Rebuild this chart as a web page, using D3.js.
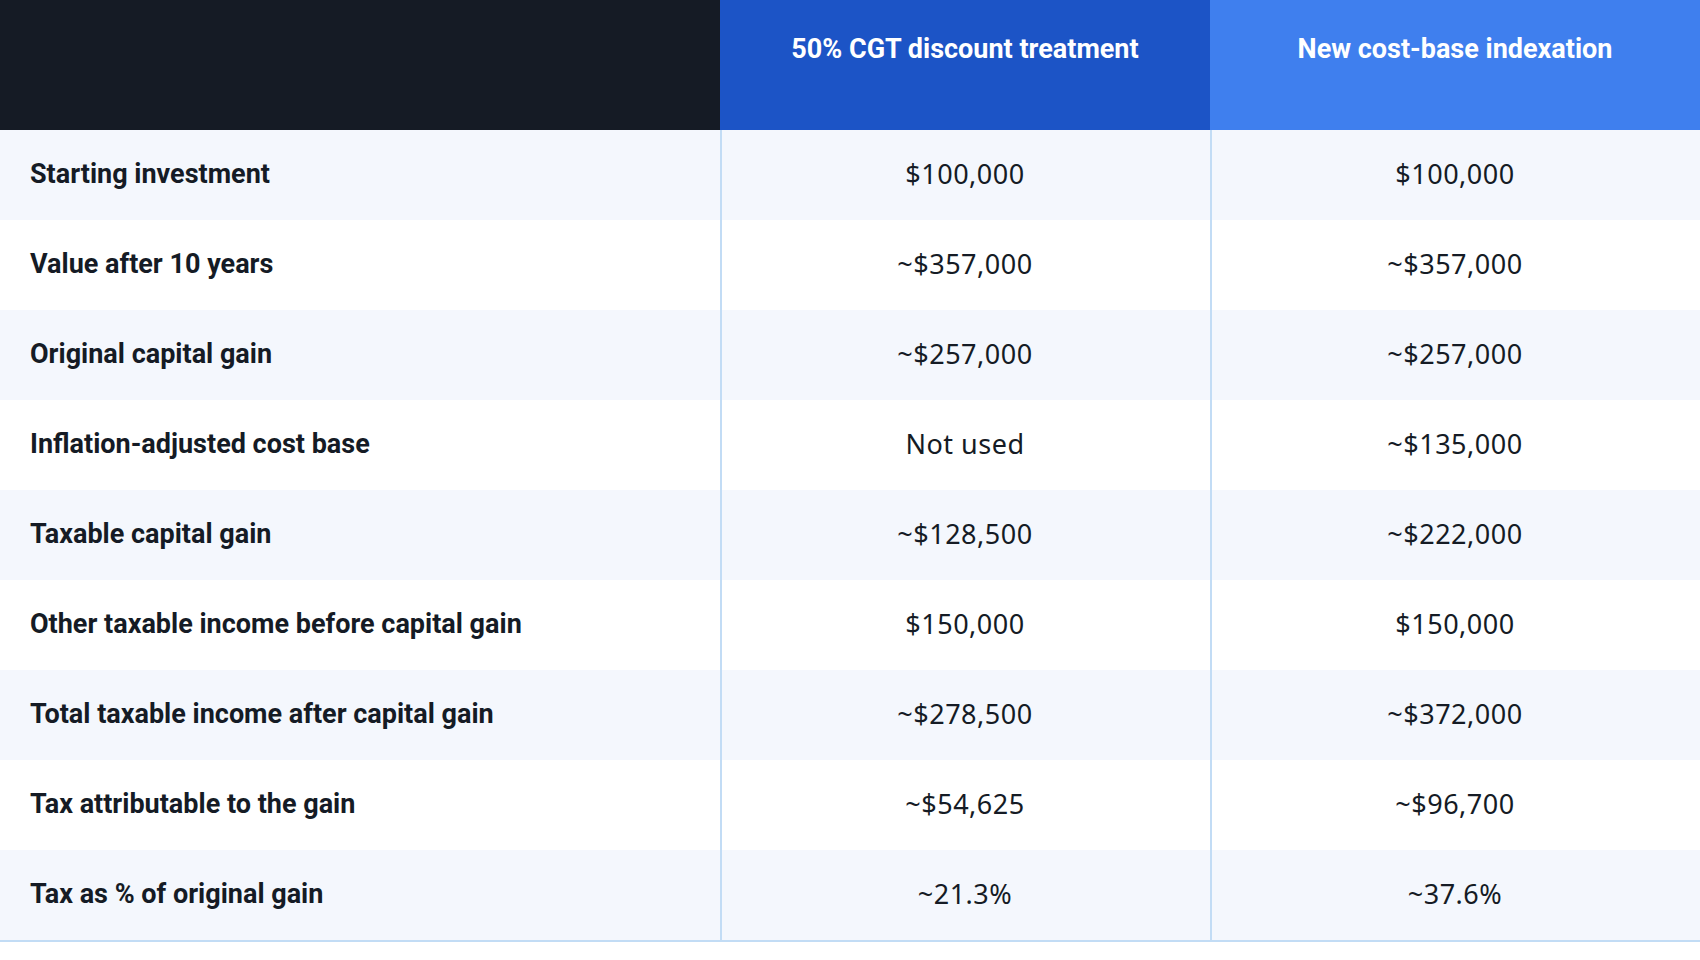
<!DOCTYPE html>
<html>
<head>
<meta charset="utf-8">
<script src="https://cdn.jsdelivr.net/npm/d3@7"></script>
<style>
  html, body { margin: 0; padding: 0; background: #ffffff; }
  text { font-family: Roboto, "Noto Sans", sans-serif; }
</style>
</head>
<body>
<div id="grafico"></div>
<script>
const WIDTH = 1700;
const HEIGHT = 960;

const columnHeaders = ["50% CGT discount treatment", "New cost-base indexation"];
const rowLabels = [
    "Starting investment",
    "Value after 10 years",
    "Original capital gain",
    "Inflation-adjusted cost base",
    "Taxable capital gain",
    "Other taxable income before capital gain",
    "Total taxable income after capital gain",
    "Tax attributable to the gain",
    "Tax as % of original gain"
];
const discountValues = [
    "$100,000", "~$357,000", "~$257,000", "Not used", "~$128,500",
    "$150,000", "~$278,500", "~$54,625", "~21.3%"
];
const indexationValues = [
    "$100,000", "~$357,000", "~$257,000", "~$135,000", "~$222,000",
    "$150,000", "~$372,000", "~$96,700", "~37.6%"
];

const headerColors = ["#1c54c6", "#3f7fee"];
const DARK = "#151b25";
const LINE = "#c2dcf5";
const HEADER_H = 130;
const LABEL_W = 720;
const TABLE_BOTTOM = 940;

let svg = d3.select("#grafico")
    .append("svg")
    .attr("width", WIDTH)
    .attr("height", HEIGHT);

let x = d3.scaleBand()
    .domain(columnHeaders)
    .range([LABEL_W, WIDTH]);

let y = d3.scaleBand()
    .domain(rowLabels)
    .range([HEADER_H, TABLE_BOTTOM]);

// header band
svg.append("rect")
    .attr("x", 0).attr("y", 0)
    .attr("width", LABEL_W).attr("height", HEADER_H)
    .style("fill", DARK);

svg.selectAll(".head")
    .data(columnHeaders)
    .enter()
    .append("rect")
    .attr("class", "head")
    .attr("x", d => x(d))
    .attr("y", 0)
    .attr("width", x.bandwidth())
    .attr("height", HEADER_H)
    .style("fill", (d, i) => headerColors[i]);

svg.selectAll(".headText")
    .data(columnHeaders)
    .enter()
    .append("text")
    .attr("class", "headText")
    .attr("x", d => x(d) + x.bandwidth() / 2)
    .attr("y", 58)
    .attr("text-anchor", "middle")
    .style("font-size", "27px")
    .style("font-weight", "bold")
    .style("fill", "#ffffff")
    .text(d => d);

// row stripes
svg.selectAll(".stripe")
    .data(rowLabels)
    .enter()
    .append("rect")
    .attr("class", "stripe")
    .attr("x", 0)
    .attr("y", d => y(d))
    .attr("width", WIDTH)
    .attr("height", y.bandwidth())
    .style("fill", (d, i) => i % 2 == 0 ? "#f4f7fd" : "#ffffff");

// column rules
svg.selectAll(".rule")
    .data(columnHeaders)
    .enter()
    .append("line")
    .attr("class", "rule")
    .attr("x1", d => x(d) + 1)
    .attr("x2", d => x(d) + 1)
    .attr("y1", HEADER_H)
    .attr("y2", TABLE_BOTTOM)
    .style("stroke", LINE)
    .style("stroke-width", 2);

svg.append("line")
    .attr("x1", 0).attr("x2", WIDTH)
    .attr("y1", TABLE_BOTTOM + 1).attr("y2", TABLE_BOTTOM + 1)
    .style("stroke", LINE)
    .style("stroke-width", 2);

// row labels
svg.selectAll(".label")
    .data(rowLabels)
    .enter()
    .append("text")
    .attr("class", "label")
    .attr("x", 30)
    .attr("y", d => y(d) + 53)
    .style("font-size", "27px")
    .style("font-weight", "bold")
    .style("fill", DARK)
    .text(d => d);

// values
let columns = [discountValues, indexationValues];
columns.forEach((vals, c) => {
    svg.selectAll(".val" + c)
        .data(vals)
        .enter()
        .append("text")
        .attr("class", "val" + c)
        .attr("x", x(columnHeaders[c]) + x.bandwidth() / 2)
        .attr("y", (d, i) => y(rowLabels[i]) + 54)
        .attr("text-anchor", "middle")
        .style("font-family", "'Noto Sans', sans-serif")
        .style("font-size", "27px")
        .style("letter-spacing", "0.5px")
        .style("fill", DARK)
        .text(d => d);
});
</script>
</body>
</html>
